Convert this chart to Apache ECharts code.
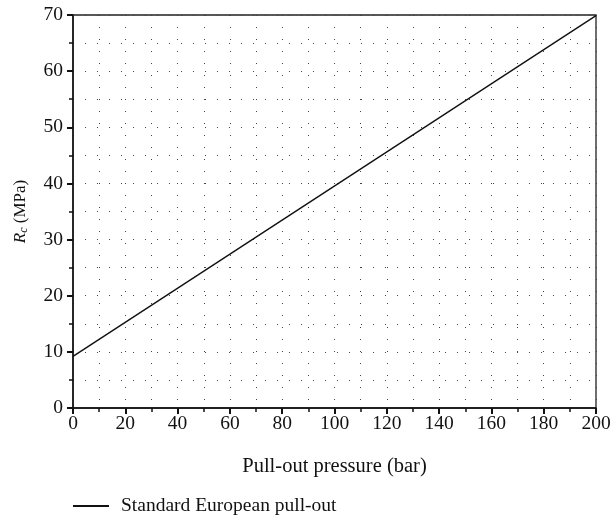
<!DOCTYPE html>
<html>
<head>
<meta charset="utf-8">
<script src="https://cdn.jsdelivr.net/npm/echarts@6/dist/echarts.min.js"></script>
<style>
  html, body { margin: 0; padding: 0; background: #fff; }
  #chart { width: 610px; height: 517px; }
</style>
</head>
<body>
<div id="chart"></div>
<script>
// pull-out pressure (bar) vs compressive strength Rc (MPa)
const pressure = [0, 200];
const strength = [9.2, 69.9];
const seriesName = "Standard European pull-out";

const xTicks = [0, 20, 40, 60, 80, 100, 120, 140, 160, 180, 200];
const yTicks = [0, 10, 20, 30, 40, 50, 60, 70];

const serif = "'Liberation Serif', 'DejaVu Serif', serif";
const dotted = { color: "#444", width: 1, type: [1, 11] };

const chart = echarts.init(document.getElementById("chart"));

chart.setOption({
    animation: false,
    textStyle: { fontFamily: serif },
    grid: {
        left: 73,
        right: 14,
        top: 15,
        bottom: 109,
        outerBoundsMode: "none",
        containLabel: false,
        show: true,
        borderColor: "#222",
        borderWidth: 1.3,
    },
    legend: {
        left: 68,
        top: 491,
        itemWidth: 36,
        itemHeight: 2,
        icon: "rect",
        textStyle: { fontFamily: serif, fontSize: 19.5, color: "#111", padding: [0, 0, 0, 7] },
        data: [{ name: seriesName, itemStyle: { color: "#111" } }],
    },
    xAxis: {
        type: "value",
        min: xTicks[0],
        max: xTicks[xTicks.length - 1],
        interval: 20,
        name: "Pull-out pressure (bar)",
        nameLocation: "middle",
        nameGap: 48,
        nameTextStyle: { fontFamily: serif, fontSize: 20.5, color: "#111" },
        axisLine: { show: true, lineStyle: { color: "#111", width: 1.5 } },
        axisTick: { show: true, inside: false, length: 6, lineStyle: { color: "#111", width: 2 } },
        minorTick: { show: true, splitNumber: 2, length: 4, lineStyle: { color: "#111", width: 1.5 } },
        axisLabel: { fontFamily: serif, fontSize: 19.5, color: "#111", margin: 6 },
        splitLine: { show: true, lineStyle: dotted },
        minorSplitLine: { show: true, lineStyle: dotted },
    },
    yAxis: {
        type: "value",
        min: yTicks[0],
        max: yTicks[yTicks.length - 1],
        interval: 10,
        name: "{i|R}{s|c} (MPa)",
        nameLocation: "middle",
        nameGap: 43,
        nameTextStyle: {
            fontFamily: serif,
            fontSize: 17,
            color: "#111",
            rich: {
                i: { fontFamily: serif, fontSize: 17, fontStyle: "italic", color: "#111" },
                s: { fontFamily: serif, fontSize: 12, fontStyle: "italic", color: "#111", padding: [6, 0, 0, 0] },
            },
        },
        axisLine: { show: true, lineStyle: { color: "#111", width: 1.5 } },
        axisTick: { show: true, inside: false, length: 6, lineStyle: { color: "#111", width: 2 } },
        minorTick: { show: true, splitNumber: 2, length: 4, lineStyle: { color: "#111", width: 1.5 } },
        axisLabel: { fontFamily: serif, fontSize: 19.5, color: "#111", margin: 10 },
        splitLine: { show: true, lineStyle: dotted },
        minorSplitLine: { show: true, lineStyle: dotted },
    },
    series: [
        {
            name: seriesName,
            type: "line",
            showSymbol: false,
            data: pressure.map((p, i) => [p, strength[i]]),
            lineStyle: { color: "#111", width: 1.4 },
            itemStyle: { color: "#111" },
        },
    ],
});
</script>
</body>
</html>
